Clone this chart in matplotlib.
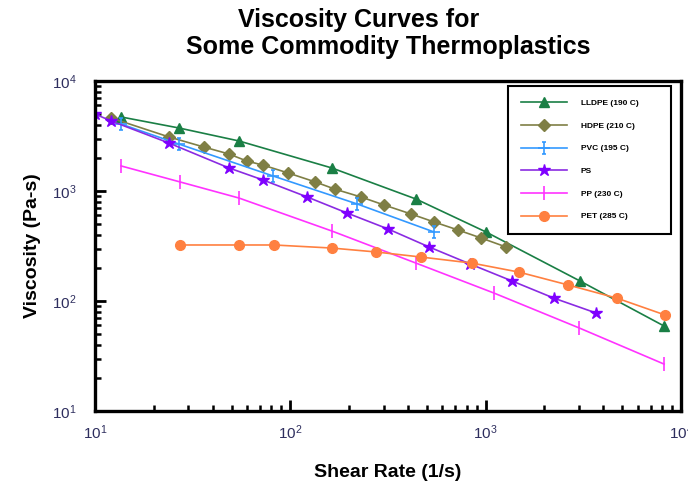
import numpy as np
import matplotlib
matplotlib.use("Agg")
import matplotlib.pyplot as plt
from matplotlib.path import Path

plt.rcParams['font.family'] = ['Liberation Sans', 'DejaVu Sans']

# shear rate (1/s) and viscosity (Pa-s)
lldpe_x = [13.6, 26.9, 54.6, 163, 440, 1004, 3040, 8180]
lldpe_y = [4710, 3740, 2850, 1620, 845, 424, 152, 59.3]

hdpe_x = [12.1, 23.9, 36.1, 48.5, 60.0, 72.4, 97.3, 134, 169, 230, 302, 415, 544, 722, 947, 1271]
hdpe_y = [4610, 3100, 2510, 2170, 1870, 1720, 1460, 1210, 1040, 882, 746, 618, 523, 442, 374, 310]

pvc_x = [13.6, 26.9, 81.5, 220, 544]
pvc_y = [4060, 2670, 1370, 762, 424]

ps_x = [10, 12.1, 23.9, 48.5, 72.4, 122, 195, 316, 513, 832, 1365, 2240, 3675]
ps_y = [5010, 4330, 2730, 1620, 1260, 882, 631, 452, 310, 217, 152, 106, 77.8]

pp_x = [13.6, 27.2, 54.6, 163, 440, 1104, 3010, 8190]
pp_y = [1690, 1210, 863, 433, 221, 118, 56.9, 26.7]

pet_x = [27.2, 54.6, 82.6, 163, 275, 467, 852, 1483, 2640, 4710, 8290]
pet_y = [323, 323, 323, 303, 279, 251, 221, 183, 140, 106, 74.6]

labels = ["LLDPE (190 C)", "HDPE (210 C)", "PVC (195 C)", "PS", "PP (230 C)", "PET (285 C)"]

# I-beam crossed by a horizontal bar, like the PVC error-bar symbol
ibeam = Path(
    [(-1, 0), (1, 0), (0, -1), (0, 1), (-0.35, 1), (0.35, 1), (-0.35, -1), (0.35, -1)],
    [Path.MOVETO, Path.LINETO, Path.MOVETO, Path.LINETO,
     Path.MOVETO, Path.LINETO, Path.MOVETO, Path.LINETO])

fig = plt.figure(figsize=(6.88, 4.86), dpi=100)
ax = fig.add_axes([95 / 688, 75 / 486, 586 / 688, 330 / 486])

lw = 1.2
ax.plot(lldpe_x, lldpe_y, color='#1a7f45', lw=lw, marker='^', ms=7, label=labels[0])
ax.plot(hdpe_x, hdpe_y, color='#7f7f45', lw=lw, marker='D', ms=6, label=labels[1])
ax.plot(pvc_x, pvc_y, color='#3399ff', lw=lw, marker=ibeam, ms=9, mew=1.2, label=labels[2])
ax.plot(ps_x, ps_y, color='#8a2be2', lw=lw, marker='*', ms=9, mfc='#7f00ff', mec='#7f00ff', label=labels[3])
ax.plot(pp_x, pp_y, color='#ff33ff', lw=lw, marker='|', ms=10, mew=1.2, label=labels[4])
ax.plot(pet_x, pet_y, color='#ff8040', lw=lw, marker='o', ms=7, label=labels[5])

ax.set_xscale('log')
ax.set_yscale('log')
ax.set_xlim(10, 1e4)
ax.set_ylim(10, 1e4)

for s in ax.spines.values():
    s.set_linewidth(2.4)
ax.tick_params(which='major', direction='in', length=8, width=2, labelsize=11,
               labelcolor='#2e2e5e', top=False, right=False)
ax.tick_params(axis='x', which='major', pad=9)
ax.tick_params(axis='y', which='major', pad=13)
ax.tick_params(which='minor', direction='in', length=4.5, width=1.8, top=False, right=False)

ax.set_xlabel('Shear Rate (1/s)', fontsize=14, fontweight='bold', labelpad=16)
ax.set_ylabel('Viscosity (Pa-s)', fontsize=14, fontweight='bold', labelpad=8)
fig.text(359 / 688, 1 - 20 / 486, 'Viscosity Curves for',
         ha='center', va='center', fontsize=18, fontweight='bold')
fig.text(388 / 688, 1 - 47 / 486, 'Some Commodity Thermoplastics',
         ha='center', va='center', fontsize=18, fontweight='bold')

leg = ax.legend(loc='upper left', bbox_to_anchor=(0.705, 0.539, 0.278, 0.446), mode='expand',
                fancybox=False, edgecolor='black', framealpha=1,
                prop={'size': 6, 'weight': 'bold'},
                handlelength=5.5, handletextpad=1.6, labelspacing=1.78, borderpad=1.6,
                borderaxespad=0)
leg.get_frame().set_linewidth(1.5)

fig.savefig('out.png', dpi=100)
